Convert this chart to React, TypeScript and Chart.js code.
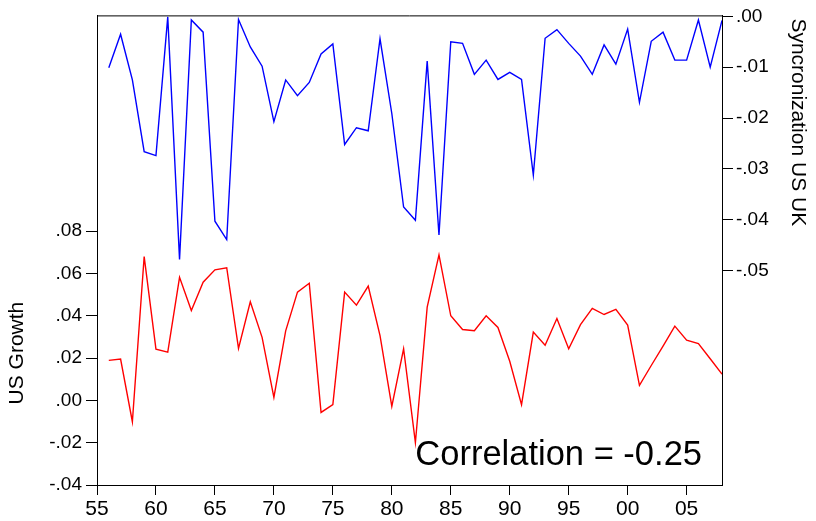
import React, { useEffect, useRef } from "react";
import { Chart, registerables } from "chart.js";

Chart.register(...registerables);

const years = [
  1956, 1957, 1958, 1959, 1960, 1961, 1962, 1963, 1964, 1965, 1966, 1967, 1968,
  1969, 1970, 1971, 1972, 1973, 1974, 1975, 1976, 1977, 1978, 1979, 1980, 1981,
  1982, 1983, 1984, 1985, 1986, 1987, 1988, 1989, 1990, 1991, 1992, 1993, 1994,
  1995, 1996, 1997, 1998, 1999, 2000, 2001, 2002, 2003, 2004, 2005, 2006, 2007, 2008,
];

const syncUSUK = [
  -0.0101, -0.0035, -0.0125, -0.0266, -0.0274, -0.0001, -0.0478, -0.0007, -0.0031,
  -0.0403, -0.0439, -0.0006, -0.006, -0.0098, -0.0207, -0.0125, -0.0156, -0.013,
  -0.0074, -0.0054, -0.0252, -0.0219, -0.0225, -0.0044, -0.0191, -0.0375, -0.0401,
  -0.0088, -0.043, -0.005, -0.0053, -0.0114, -0.0086, -0.0124, -0.011, -0.0124,
  -0.0312, -0.0043, -0.0026, -0.0053, -0.0078, -0.0114, -0.0056, -0.0094, -0.0025,
  -0.0169, -0.0049, -0.0031, -0.0086, -0.0086, -0.0007, -0.01, -0.0008,
];

const usGrowth = [
  0.0189, 0.0195, -0.0101, 0.068, 0.0242, 0.0228, 0.0582, 0.0425, 0.0559, 0.0617,
  0.0627, 0.0246, 0.0466, 0.0298, 0.0014, 0.0329, 0.0512, 0.0554, -0.0057, -0.002,
  0.0512, 0.045, 0.054, 0.0306, -0.0028, 0.0244, -0.02, 0.0441, 0.0688, 0.04,
  0.0335, 0.0329, 0.04, 0.0345, 0.0185, -0.002, 0.0323, 0.0261, 0.0387, 0.0244,
  0.0358, 0.0435, 0.0406, 0.043, 0.0356, 0.0071, 0.0165, 0.0257, 0.0351, 0.0285,
  0.0269, 0.0197, 0.0124,
];

const xTicks = [1955, 1960, 1965, 1970, 1975, 1980, 1985, 1990, 1995, 2000, 2005];
const leftTicks = [-0.04, -0.02, 0, 0.02, 0.04, 0.06, 0.08];
const rightTicks = [0, -0.01, -0.02, -0.03, -0.04, -0.05];

const leftTitle = "US Growth";
const rightTitle = "Syncronization US UK";
const correlationText = "Correlation = -0.25";

const FONT = "'Liberation Sans', Arial, Helvetica, sans-serif";

function fmtDec(v: number): string {
  const s = Math.abs(v).toFixed(2).replace(/^0/, "");
  return (v < -1e-9 ? "-" : "") + s;
}

const overlayPlugin = {
  id: "overlay",
  afterDraw(chart: any) {
    const { ctx, chartArea, scales } = chart;
    ctx.save();
    // frame top line
    ctx.strokeStyle = "#000";
    ctx.lineWidth = 1;
    ctx.beginPath();
    ctx.moveTo(chartArea.left, chartArea.top + 0.5);
    ctx.lineTo(chartArea.right, chartArea.top + 0.5);
    ctx.stroke();

    ctx.fillStyle = "#000";
    // left title
    const yL = scales.y;
    const cy = (yL.getPixelForValue(leftTicks[0]) + yL.getPixelForValue(leftTicks[leftTicks.length - 1])) / 2 - 5;
    ctx.font = `21px ${FONT}`;
    ctx.save();
    ctx.translate(17, cy);
    ctx.rotate(-Math.PI / 2);
    ctx.textAlign = "center";
    ctx.textBaseline = "middle";
    ctx.fillText(leftTitle, 0, 0);
    ctx.restore();

    // right title
    ctx.save();
    ctx.translate(chart.width - 18, chartArea.top + 3);
    ctx.rotate(Math.PI / 2);
    ctx.textAlign = "left";
    ctx.textBaseline = "middle";
    ctx.fillText(rightTitle, 0, 0);
    ctx.restore();

    // correlation annotation
    ctx.font = `34.5px ${FONT}`;
    ctx.textAlign = "right";
    ctx.textBaseline = "alphabetic";
    ctx.fillText(correlationText, chartArea.right - 20, chartArea.bottom - 20);
    ctx.restore();
  },
};

export default function App() {
  const canvasRef = useRef<HTMLCanvasElement | null>(null);

  useEffect(() => {
    const canvas = canvasRef.current;
    if (!canvas) return;
    const chart = new Chart(canvas, {
      type: "line",
      data: {
        datasets: [
          {
            label: "Syncronization US UK",
            data: years.map((yr, i) => ({ x: yr, y: syncUSUK[i] })),
            borderColor: "#0000ff",
            backgroundColor: "#0000ff",
            borderWidth: 1.4,
            pointRadius: 0,
            tension: 0,
            yAxisID: "y1",
          },
          {
            label: "US Growth",
            data: years.map((yr, i) => ({ x: yr, y: usGrowth[i] })),
            borderColor: "#ff0000",
            backgroundColor: "#ff0000",
            borderWidth: 1.4,
            pointRadius: 0,
            tension: 0,
            yAxisID: "y",
          },
        ],
      },
      options: {
        responsive: false,
        animation: false,
        devicePixelRatio: 1,
        layout: { padding: { top: 15, left: 0, right: 0, bottom: 0 } },
        plugins: {
          legend: { display: false },
          tooltip: { enabled: false },
        },
        scales: {
          x: {
            type: "linear",
            min: 1955,
            max: 2008,
            afterBuildTicks: (s: any) => {
              s.ticks = xTicks.map((v) => ({ value: v }));
            },
            afterFit: (s: any) => {
              s.height = 36;
            },
            grid: {
              display: true,
              drawOnChartArea: false,
              drawTicks: true,
              tickLength: 10,
              color: "#000",
            },
            border: { display: true, color: "#000", width: 1 },
            ticks: {
              color: "#000",
              font: { family: FONT, size: 21 },
              padding: 2,
              maxRotation: 0,
              autoSkip: false,
              callback: (v: any) => String(Number(v) % 100).padStart(2, "0"),
            },
          },
          y: {
            type: "linear",
            position: "left",
            min: -0.04,
            max: 0.182,
            afterBuildTicks: (s: any) => {
              s.ticks = leftTicks.map((v) => ({ value: v }));
            },
            afterFit: (s: any) => {
              s.width = 97;
            },
            grid: {
              display: true,
              drawOnChartArea: false,
              drawTicks: true,
              tickLength: 11,
              color: "#000",
            },
            border: { display: true, color: "#000", width: 1 },
            ticks: {
              color: "#000",
              font: { family: FONT, size: 19 },
              padding: 4,
              autoSkip: false,
              callback: (v: any) => fmtDec(Number(v)),
            },
          },
          y1: {
            type: "linear",
            position: "right",
            min: -0.0922,
            max: 0.0002,
            afterBuildTicks: (s: any) => {
              s.ticks = rightTicks.map((v) => ({ value: v }));
            },
            afterFit: (s: any) => {
              s.width = 94;
            },
            grid: {
              display: true,
              drawOnChartArea: false,
              drawTicks: true,
              tickLength: 11,
              color: "#000",
            },
            border: { display: true, color: "#000", width: 1 },
            ticks: {
              color: "#000",
              font: { family: FONT, size: 19 },
              padding: 3,
              autoSkip: false,
              callback: (v: any) => fmtDec(Number(v)),
            },
          },
        },
      },
      plugins: [overlayPlugin],
    } as any);
    return () => chart.destroy();
  }, []);

  return (
    <div style={{ position: "absolute", left: 0, top: 0, width: 816, height: 521, background: "#fff" }}>
      <canvas ref={canvasRef} width={816} height={521} />
    </div>
  );
}
